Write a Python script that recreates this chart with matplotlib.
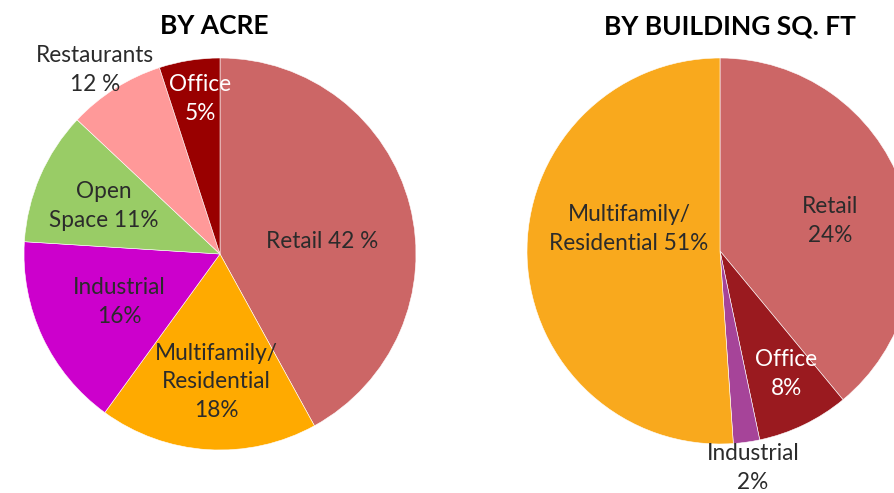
import matplotlib
matplotlib.use("Agg")
import matplotlib.pyplot as plt

# data
acre_names = ["Retail", "Multifamily/Residential", "Industrial", "Open Space", "Restaurants", "Office"]
acre_values = [42, 18, 16, 11, 8, 5]
acre_colors = ["#CC6666", "#FFAA00", "#CC00CC", "#99CC66", "#FF9999", "#990000"]
acre_labels = ["Retail 42 %", "Multifamily/\nResidential\n18%", "Industrial\n16%",
               "Open\nSpace 11%", "Restaurants\n12 %", "Office\n5%"]

sqft_names = ["Retail", "Office", "Industrial", "Multifamily/Residential"]
sqft_values = [39, 7.7, 2.2, 51.1]
sqft_colors = ["#CC6666", "#9A1A1F", "#A64499", "#F9A91D"]
sqft_labels = ["Retail\n24%", "Office\n8%", "Industrial\n2%", "Multifamily/\nResidential 51%"]

# layout (pixel coords, y from top)
W, H = 894, 493
acre_center, acre_r = (220, 254), 196
sqft_center, sqft_r = (720, 251), 193
acre_label_pos = [(322, 242), (216, 382), (119, 302), (104, 206), (95, 70), (200, 99)]
acre_label_col = ["#2b2b2b"] * 5 + ["white"]
sqft_label_pos = [(830, 221), (786, 374), (753, 468), (629, 229)]
sqft_label_col = ["#2b2b2b", "white", "#2b2b2b", "#2b2b2b"]

plt.rcParams['font.family'] = ['Lato', 'DejaVu Sans']

fig = plt.figure(figsize=(W / 100, H / 100), dpi=100)
ax = fig.add_axes([0, 0, 1, 1])

ax.pie(acre_values, colors=acre_colors, center=(acre_center[0], H - acre_center[1]),
       radius=acre_r, startangle=90, counterclock=False,
       wedgeprops=dict(edgecolor='white', linewidth=0.4), frame=True)
ax.pie(sqft_values, colors=sqft_colors, center=(sqft_center[0], H - sqft_center[1]),
       radius=sqft_r, startangle=90, counterclock=False,
       wedgeprops=dict(edgecolor='white', linewidth=0.4), frame=True)
ax.set_xlim(0, W)
ax.set_ylim(0, H)
ax.set_aspect('equal')
ax.axis('off')

for lab, (x, y), c in zip(acre_labels, acre_label_pos, acre_label_col):
    ax.text(x, H - y, lab, ha='center', va='center', fontsize=16.3, color=c, linespacing=1.45)
for lab, (x, y), c in zip(sqft_labels, sqft_label_pos, sqft_label_col):
    ax.text(x, H - y, lab, ha='center', va='center', fontsize=16.3, color=c, linespacing=1.45)

ax.text(214, H - 26, "BY ACRE", ha='center', va='center', fontsize=19,
        fontweight='bold', color='black')
ax.text(730, H - 26, "BY BUILDING SQ. FT", ha='center', va='center', fontsize=19,
        fontweight='bold', color='black')

fig.savefig("out.png", dpi=100)
